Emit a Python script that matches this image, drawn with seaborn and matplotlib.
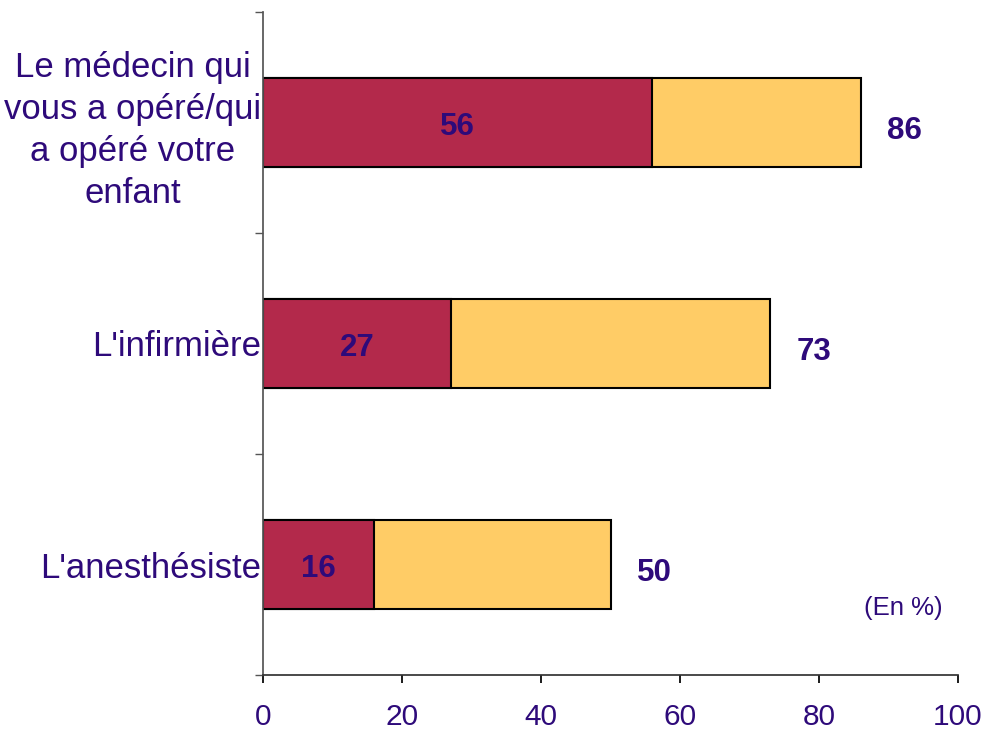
import matplotlib
matplotlib.use("Agg")
import matplotlib.pyplot as plt
import seaborn as sns
import pandas as pd

categories = ["Le médecin qui\nvous a opéré/qui\na opéré votre\nenfant", "L'infirmière", "L'anesthésiste"]
first_values = [56, 27, 16]
total_values = [86, 73, 50]
x_ticks = [0, 20, 40, 60, 80, 100]

sns.set_theme(style="ticks")
plt.rcParams["font.family"] = ["Liberation Sans", "DejaVu Sans"]

txt = "#2E0A7A"
df = pd.DataFrame({"cat": categories, "first": first_values, "total": total_values})

fig = plt.figure(figsize=(9.86, 7.3), dpi=100)
ax = fig.add_axes([263/986, 1-675/730, (958-263)/986, (675-12)/730])

sns.barplot(data=df, y="cat", x="total", orient="h", color="#FFCC66", width=0.4,
            edgecolor="black", linewidth=1.5, saturation=1, ax=ax)
sns.barplot(data=df, y="cat", x="first", orient="h", color="#B3294B", width=0.4,
            edgecolor="black", linewidth=1.5, saturation=1, ax=ax)

for i, (f, t) in enumerate(zip(first_values, total_values)):
    ax.text(f/2, i + 0.02, str(f), ha="center", va="center", fontsize=22.5,
            fontweight="bold", color=txt)
    ax.text(t + 6.3, i + 0.04, str(t), ha="center", va="center", fontsize=22.5,
            fontweight="bold", color=txt)

ax.set_xlim(0, 100)
ax.set_ylim(2.5, -0.5)
ax.set_xticks(x_ticks)
ax.set_xticklabels([str(v) for v in x_ticks], fontsize=21.5, color=txt)
ax.set_yticks(range(len(categories)))
ax.set_yticklabels(categories, fontsize=25, color=txt, multialignment="center",
                   linespacing=1.35)
ax.tick_params(axis="y", length=0, pad=1)
ax.set_yticks([-0.5, 0.5, 1.5, 2.5], minor=True)
ax.tick_params(axis="y", which="minor", length=6, color="#555555")
ax.tick_params(axis="x", length=6, color="black", pad=14)
ax.set_xlabel("")
ax.set_ylabel("")
for s in ["top", "right"]:
    ax.spines[s].set_visible(False)
ax.spines["left"].set_color("#555555")
ax.spines["bottom"].set_color("#333333")

fig.text(903/986, 1-608/730, "(En %)", ha="center", va="center", fontsize=18.5, color=txt)

fig.savefig("out.png", dpi=100)
